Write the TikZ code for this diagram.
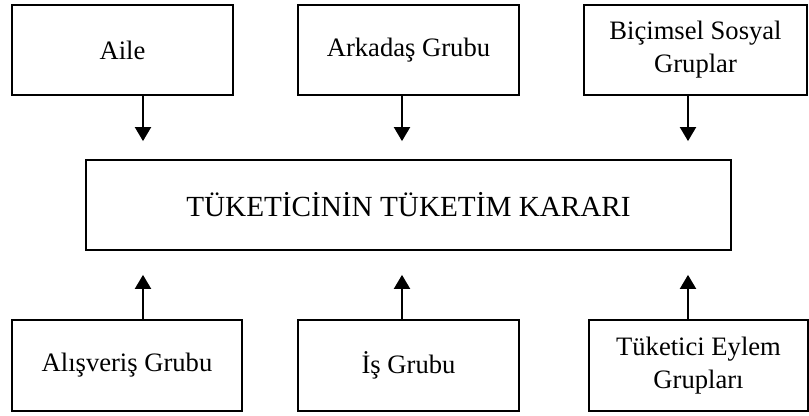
\documentclass[tikz,border=0pt]{standalone}
\usepackage{fontspec}
\setmainfont{Liberation Serif}
\usetikzlibrary{arrows.meta}

\begin{document}
\begin{tikzpicture}[x=0.5pt, y=-0.5pt,
        kutu/.style={draw, line width=0.9pt, inner sep=0pt, minimum height=45pt,
            align=center, font=\fontsize{13.3}{16.5}\selectfont},
        ok/.style={line width=1pt, -{Triangle[length=7pt, width=8pt]}}]
                \useasboundingbox (0,0) rectangle (809,416);
                \node[kutu, minimum width=110.5pt] (aile) at (122.5,50) {Aile};
                \node[kutu, minimum width=110.5pt] (arkadas) at (408.5,50) {Arkadaş Grubu};
                \node[kutu, minimum width=111.5pt] (bicimsel) at (695.5,50) {Biçimsel Sosyal\\Gruplar};
                \node[kutu, minimum width=322.5pt, font=\fontsize{14.6}{17}\selectfont] (karar) at (408.5,205) {TÜKETİCİNİN TÜKETİM KARARI};
                \node[kutu, minimum width=115pt, minimum height=45.5pt] (alisveris) at (127,365.5) {Alışveriş Grubu};
                \node[kutu, minimum width=110.5pt, minimum height=45.5pt] (is) at (408.5,365.5) {İş Grubu};
                \node[kutu, minimum width=109.5pt, minimum height=45.5pt] (eylem) at (698.5,365.5) {Tüketici Eylem\\Grupları};
                % yukaridan gelen oklar
                \draw[ok, shorten >=9pt] ([xshift=10.25pt]aile.south) -- ([xshift=10.25pt]aile.south |- karar.north);
                \draw[ok, shorten >=9pt] ([xshift=-3.25pt]arkadas.south) -- ([xshift=-3.25pt]arkadas.south |- karar.north);
                \draw[ok, shorten >=9pt] ([xshift=-3.75pt]bicimsel.south) -- ([xshift=-3.75pt]bicimsel.south |- karar.north);
                % asagidan gelen oklar
                \draw[ok, shorten >=12pt] ([xshift=8pt]alisveris.north) -- ([xshift=8pt]alisveris.north |- karar.south);
                \draw[ok, shorten >=12pt] ([xshift=-3.25pt]is.north) -- ([xshift=-3.25pt]is.north |- karar.south);
                \draw[ok, shorten >=12pt] ([xshift=-5.25pt]eylem.north) -- ([xshift=-5.25pt]eylem.north |- karar.south);
            \end{tikzpicture}
\end{document}
